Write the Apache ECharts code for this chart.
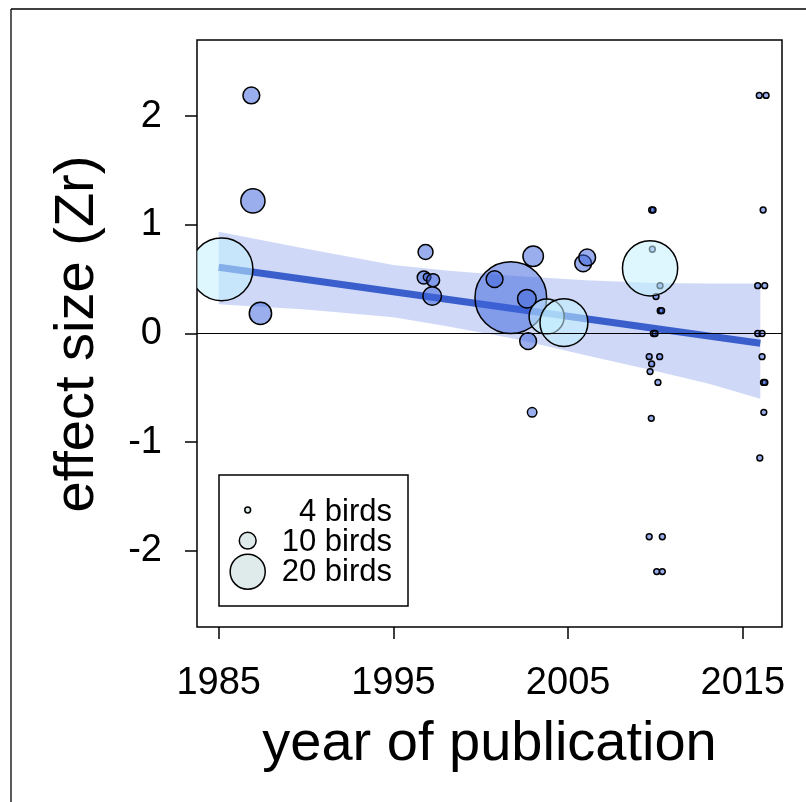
<!DOCTYPE html>
<html><head><meta charset="utf-8">
<script src="https://cdn.jsdelivr.net/npm/echarts@6/dist/echarts.min.js"></script>
<style>html,body{margin:0;padding:0;background:#fff}#c{width:806px;height:802px}</style>
</head><body><div id="c"></div>
<script>
// ---- data ----
const blueYear  = [1986.87, 1986.96, 1987.39, 1996.84, 1996.74, 1996.93, 1997.27, 1997.22, 2001.72, 2000.79, 2002.64, 2003.00, 2002.71, 2002.94, 2005.86, 2006.09,
  2009.78, 2009.86, 2009.82, 2010.26, 2010.03, 2010.27, 2010.35, 2009.88, 2009.98, 2009.64, 2010.24, 2009.78, 2009.69, 2010.14, 2009.76, 2009.64, 2010.39, 2010.07, 2010.39,
  2015.94, 2016.33, 2016.16, 2015.85, 2016.25, 2015.85, 2016.10, 2016.10, 2016.18, 2016.26, 2016.20, 2015.97];
const blueZr    = [2.19, 1.22, 0.185, 0.75, 0.515, 0.52, 0.49, 0.345, 0.33, 0.50, 0.32, 0.71, -0.07, -0.725, 0.645, 0.70,
  1.136, 1.136, 0.775, 0.44, 0.34, 0.21, 0.21, 0, 0, -0.213, -0.213, -0.28, -0.35, -0.45, -0.78, -1.87, -1.87, -2.19, -2.19,
  2.19, 2.19, 1.136, 0.44, 0.44, 0, 0, -0.213, -0.45, -0.45, -0.725, -1.145];
const blueBirds = [10, 14, 13, 9, 8, 5, 8, 11, 40, 10, 11, 12, 10, 6, 10, 10,
  4, 4, 4, 4, 4, 4, 4, 4, 4, 4, 4, 4, 4, 4, 4, 4, 4, 4, 4,
  4, 4, 4, 4, 4, 4, 4, 4, 4, 4, 4, 4];
const cyanYear  = [1985.17, 2003.77, 2004.76, 2009.69];
const cyanZr    = [0.59, 0.155, 0.10, 0.60];
const cyanBirds = [35, 20, 27, 31];
const fitYear = [1985, 2016];
const fitZr   = [0.61, -0.09];
const bandYear  = [1985, 1990, 1995, 1998, 2002, 2006, 2010, 2013, 2016];
const bandUpper = [0.935, 0.78, 0.63, 0.58, 0.53, 0.49, 0.465, 0.46, 0.46];
const bandLower = [0.27, 0.22, 0.15, 0.07, -0.05, -0.20, -0.345, -0.46, -0.60];
const xTicks = [1985, 1995, 2005, 2015];
const yTicks = [-2, -1, 0, 1, 2];
const legendBirds  = [4, 10, 20];
const legendLabels = ['4 birds', '10 birds', '20 birds'];

// ---- styling ----
const FONT = 'Liberation Sans, Arial, sans-serif';
const PX_PER_BIRD = 1.83;
const BLUE_FILL = 'rgba(62,100,220,0.52)';
const CYAN_FILL = 'rgba(195,240,255,0.55)';
const STROKE_W = 1.5;

function pointSeries(years, zr, birds, fill, z) {
  return {
    type: 'custom', coordinateSystem: 'cartesian2d', clip: true, silent: true, z: z,
    dimensions: ['year', 'zr', 'birds'], encode: { x: 0, y: 1 },
    data: years.map((y, i) => [y, zr[i], birds[i]]),
    renderItem(params, api) {
      const p = api.coord([api.value(0), api.value(1)]);
      const r = api.value(2) * PX_PER_BIRD / 2 - STROKE_W / 2;
      return { type: 'circle', shape: { cx: p[0], cy: p[1], r: r },
        style: { fill: fill, stroke: '#000', lineWidth: STROKE_W } };
    }
  };
}

const chart = echarts.init(document.getElementById('c'), null, { renderer: 'canvas' });

const legendGraphics = [
  { type: 'rect', shape: { x: 219, y: 475, width: 189, height: 131 },
    style: { fill: '#fff', stroke: '#000', lineWidth: 1.5 }, z: 100 }
];
const legendY = [510, 540.7, 571.7];
const legendTextY = [512, 542, 572];
legendBirds.forEach((n, i) => {
  legendGraphics.push({ type: 'circle', shape: { cx: 247.7, cy: legendY[i], r: n * PX_PER_BIRD / 2 - STROKE_W / 2 },
    style: { fill: '#dfeaea', stroke: '#000', lineWidth: STROKE_W }, z: 101 });
  legendGraphics.push({ type: 'text', x: 392, y: legendTextY[i], z: 101,
    style: { text: legendLabels[i], font: '31px ' + FONT, fill: '#000', align: 'right', verticalAlign: 'middle' } });
});

chart.setOption({
  animation: false,
  backgroundColor: '#fff',
  grid: { left: 197, top: 40, width: 585, height: 587, show: true, borderColor: '#000', borderWidth: 1.5, backgroundColor: 'transparent' },
  xAxis: {
    type: 'value', min: 1983.76, max: 2017.24,
    axisLine: { show: false, onZero: false }, splitLine: { show: false },
    axisTick: { show: true, inside: false, length: 12, customValues: xTicks, lineStyle: { color: '#000', width: 1.5 } },
    axisLabel: { customValues: xTicks, margin: 38, fontSize: 38, fontFamily: FONT, color: '#000', formatter: v => String(v) }
  },
  yAxis: {
    type: 'value', min: -2.7, max: 2.7,
    axisLine: { show: false, onZero: false }, splitLine: { show: false },
    axisTick: { show: true, inside: false, length: 12, customValues: yTicks, lineStyle: { color: '#000', width: 1.5 } },
    axisLabel: { customValues: yTicks, margin: 35, fontSize: 38, fontFamily: FONT, color: '#000', formatter: v => String(v) }
  },
  graphic: [
    { type: 'line', shape: { x1: 11, y1: 9, x2: 806, y2: 9 }, style: { stroke: '#000', lineWidth: 1.3 } },
    { type: 'line', shape: { x1: 11, y1: 9, x2: 11, y2: 802 }, style: { stroke: '#000', lineWidth: 1.3 } },
    { type: 'text', x: 489.5, y: 745,
      style: { text: 'year of publication', font: '56px ' + FONT, fill: '#000', align: 'center', verticalAlign: 'middle' } },
    { type: 'text', x: 78, y: 334, rotation: Math.PI / 2,
      style: { text: 'effect size (Zr)', font: '56px ' + FONT, fill: '#000', align: 'center', verticalAlign: 'middle' } }
  ].concat(legendGraphics),
  series: [
    {
      type: 'custom', coordinateSystem: 'cartesian2d', clip: true, silent: true, z: 1,
      data: [[bandYear[0], bandUpper[0]]], encode: { x: 0, y: 1 },
      renderItem(params, api) {
        const pts = [];
        for (let i = 0; i < bandYear.length; i++) pts.push(api.coord([bandYear[i], bandUpper[i]]));
        for (let i = bandYear.length - 1; i >= 0; i--) pts.push(api.coord([bandYear[i], bandLower[i]]));
        return { type: 'polygon', shape: { points: pts }, style: { fill: 'rgba(65,105,225,0.25)' } };
      }
    },
    {
      type: 'line', z: 2, silent: true, symbol: 'none',
      data: fitYear.map((y, i) => [y, fitZr[i]]),
      lineStyle: { color: '#3a5fcd', width: 7 },
      markLine: { silent: true, symbol: 'none', label: { show: false },
        lineStyle: { color: '#000', width: 1.2, type: 'solid' }, data: [{ yAxis: 0 }] }
    },
    pointSeries(blueYear, blueZr, blueBirds, BLUE_FILL, 3),
    pointSeries(cyanYear, cyanZr, cyanBirds, CYAN_FILL, 4)
  ]
});
</script></body></html>
